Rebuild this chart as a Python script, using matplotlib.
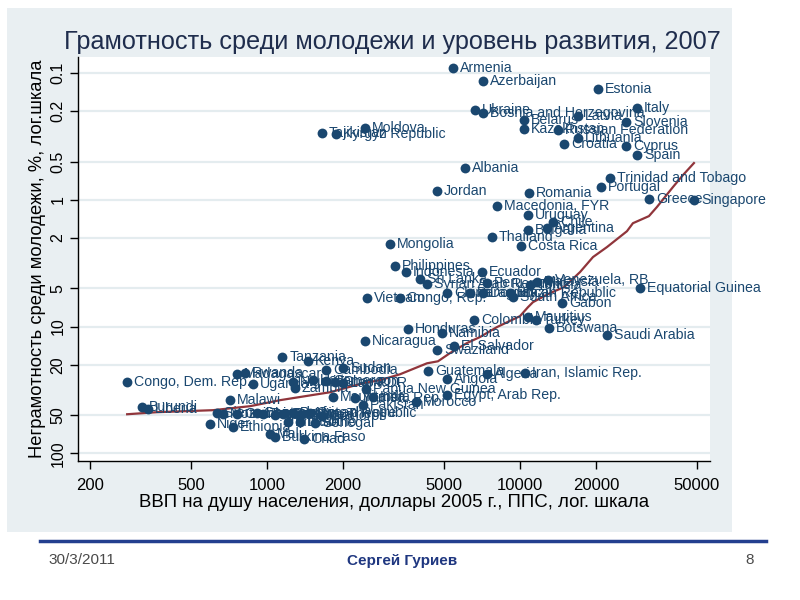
import matplotlib
matplotlib.use("Agg")
import matplotlib.pyplot as plt
from matplotlib.patches import Rectangle
from matplotlib.lines import Line2D

# country, GDP per capita (2005 PPP $), youth illiteracy (%)
countries = [
    "Armenia", "Azerbaijan", "Estonia", "Ukraine", "Bosnia and Herzegovina", "Italy",
    "Latvia", "Belarus", "Slovenia", "Kazakhstan", "Russian Federation", "Lithuania",
    "Croatia", "Cyprus", "Spain", "Moldova", "Tajikistan", "Kyrgyz Republic", "Albania",
    "Trinidad and Tobago", "Portugal", "Jordan", "Romania", "Greece", "Singapore",
    "Macedonia, FYR", "Uruguay", "Chile", "Argentina", "Bulgaria", "Thailand",
    "Costa Rica", "Mongolia",
    "Philippines", "Indonesia", "Sri Lanka", "Syrian Arab Republic", "Ecuador", "Peru",
    "Tunisia", "Malaysia", "Venezuela, RB", "Equatorial Guinea", "Vietnam", "Congo, Rep.",
    "China", "Paraguay", "Dominican Republic", "Brazil", "South Africa", "Gabon",
    "Colombia", "Mauritius", "Turkey", "Botswana", "Saudi Arabia", "Honduras", "Namibia",
    "Nicaragua", "El Salvador", "Swaziland", "Guatemala", "Angola", "Algeria",
    "Iran, Islamic Rep.", "Egypt, Arab Rep.", "Morocco", "Pakistan", "India", "Yemen, Rep.",
    "Mauritania", "Papua New Guinea", "Lao PDR", "Ghana", "Cameroon", "Zambia", "Nigeria",
    "Haiti", "Uganda", "Cambodia", "Sudan", "Kenya", "Tanzania", "Madagascar", "Rwanda",
    "Congo, Dem. Rep.", "Malawi", "Burundi", "Liberia", "Niger", "Ethiopia", "Mali",
    "Burkina Faso", "Chad", "Sierra Leone", "Mozambique", "Guinea-Bissau",
    "Central African Republic", "Togo", "Nepal", "Gambia, The", "Benin", "Guinea",
    "Cote d'Ivoire", "Comoros", "Bhutan", "Lesotho", "Senegal",
]
gdp = [
    5430, 7140, 20340, 6640, 7140, 29010,
    16960, 10370, 26240, 10370, 14130, 16960,
    14930, 26240, 29010, 2440, 1650, 1870, 6060,
    22690, 20900, 4700, 10850, 32350, 48730,
    8110, 10760, 13500, 12790, 10760, 7750,
    10090, 3060,
    3210, 3540, 4030, 4290, 7080, 7410,
    10950, 11670, 12900, 29810, 2490, 3360,
    5150, 6350, 7140, 9130, 9380, 14660,
    6580, 10760, 11570, 13020, 22080, 3610, 4920,
    2440, 5480, 4700, 4330, 5150, 7410,
    10470, 5150, 3880, 2400, 2620, 2230,
    1820, 2460, 2000, 1860, 1710, 1290, 1270,
    1520, 880, 1710, 2000, 1450, 1150, 760, 820,
    280, 714, 321, 339, 595, 734, 1028,
    1076, 1400, 635, 670, 761,
    913, 964, 1076, 1157, 1267, 1350,
    1479, 1650, 1211, 1350, 1548,
]
illit = [
    0.091, 0.116, 0.134, 0.196, 0.207, 0.189,
    0.219, 0.235, 0.244, 0.277, 0.282, 0.326,
    0.363, 0.377, 0.444, 0.272, 0.298, 0.303, 0.562,
    0.674, 0.794, 0.854, 0.885, 0.987, 1.006,
    1.12, 1.32, 1.50, 1.67, 1.73, 1.97,
    2.32, 2.24,
    3.34, 3.72, 4.23, 4.63, 3.72, 4.55,
    4.71, 4.46, 4.30, 4.98, 5.97, 5.97,
    5.45, 5.45, 5.45, 5.45, 5.86, 6.54,
    8.90, 8.43, 8.90, 10.3, 11.7, 10.5, 11.3,
    13.0, 14.3, 15.4, 22.5, 26.0, 23.8,
    23.3, 34.8, 39.5, 41.7, 36.1, 36.8,
    36.1, 31.2, 28.0, 27.5, 27.0, 30.7, 27.5,
    26.5, 28.5, 22.1, 21.3, 18.8, 17.4, 23.8, 23.3,
    27.5, 38.1, 43.3, 44.9, 58.9, 62.2, 70.6,
    74.6, 77.4, 48.3, 49.2, 49.2,
    48.3, 49.2, 50.1, 49.2, 48.3, 50.1,
    48.3, 51.0, 56.8, 56.8, 57.9,
]

# smoothed fit line
fit_gdp = [280, 367, 612, 857, 1126, 1774, 2395, 2796, 3356, 4290, 4741, 5288,
           6172, 6948, 8110, 10000, 10760, 11260, 13140, 14930, 17270, 19440,
           22080, 26480, 27960, 32350, 34790, 40240, 44100, 48730]
fit_illit = [49.2, 47.4, 45.7, 42.5, 38.1, 33.0, 28.0, 26.5, 23.8, 19.5, 18.8, 16.2,
             13.5, 12.1, 10.1, 8.28, 7.03, 6.42, 5.45, 4.89, 3.72, 2.83,
             2.36, 1.77, 1.53, 1.345, 1.14, 0.794, 0.638, 0.513]

xticks = [200, 500, 1000, 2000, 5000, 10000, 20000, 50000]
yticks = [0.1, 0.2, 0.5, 1, 2, 5, 10, 20, 50, 100]
ytick_labels = ["0.1", "0.2", "0.5", "1", "2", "5", "10", "20", "50", "100"]

navy = "#1a476f"
maroon = "#90353b"
frame_col = "#e9eff2"
sans = ["Liberation Sans", "DejaVu Sans"]

fig = plt.figure(figsize=(8, 6), dpi=100)
fig.patch.set_facecolor("white")
fig.patches.append(Rectangle((0.00875, 0.1133), 0.906, 0.8733, transform=fig.transFigure,
                             facecolor=frame_col, edgecolor="none", zorder=-5))

ax = fig.add_axes([0.0975, 0.2317, 0.79, 0.6733])
ax.set_facecolor("white")
ax.set_xscale("log")
ax.set_yscale("log")
ax.set_xlim(179, 56400)
ax.set_ylim(115, 0.0747)

for y in yticks:
    ax.axhline(y, color="#e4ecef", lw=1.6, zorder=0)

ax.plot(fit_gdp, fit_illit, color=maroon, lw=1.6, zorder=2)
ax.scatter(gdp, illit, s=50, color=navy, zorder=3, linewidths=0)
for name, x, y in zip(countries, gdp, illit):
    ax.annotate(name, (x, y), xytext=(5, 0), textcoords="offset points",
                ha="left", va="center", fontsize=10.2, color=navy, family=sans, zorder=4)

ax.set_xticks(xticks)
ax.set_xticklabels([str(t) for t in xticks], family=sans, fontsize=12)
ax.set_yticks(yticks)
ax.set_yticklabels(ytick_labels, family=sans, fontsize=11.5, rotation=90, va="center")
ax.minorticks_off()
ax.tick_params(axis="x", length=6, width=1, pad=6)
ax.tick_params(axis="y", length=6, width=1, pad=3)
for s in ["top", "right"]:
    ax.spines[s].set_visible(False)
ax.spines["left"].set_linewidth(1)
ax.spines["bottom"].set_linewidth(1)

ax.set_xlabel("ВВП на душу населения, доллары 2005 г., ППС, лог. шкала",
              family=sans, fontsize=13.4, labelpad=1)
ax.set_ylabel("Неграмотность среди молодежи, %, лог.шкала", family=sans, fontsize=13.2,
              labelpad=3)

fig.text(0.49, 0.93, "Грамотность среди молодежи и уровень развития, 2007",
         ha="center", va="center", family=sans, fontsize=18.2, color="#1f2d4d")

fig.lines.append(Line2D([0.05, 0.9575], [0.0983, 0.0983], transform=fig.transFigure,
                        color="#233f8f", lw=2.5))
fig.text(0.061, 0.0667, "30/3/2011", ha="left", va="center", family=sans,
         fontsize=11, color="#4a4a4a")
fig.text(0.5025, 0.0650, "Сергей Гуриев", ha="center", va="center", family=sans,
         fontsize=11, fontweight="bold", color="#1f3780")
fig.text(0.9375, 0.0667, "8", ha="center", va="center", family=sans,
         fontsize=11, color="#4a4a4a")

fig.savefig("out.png", dpi=100)
